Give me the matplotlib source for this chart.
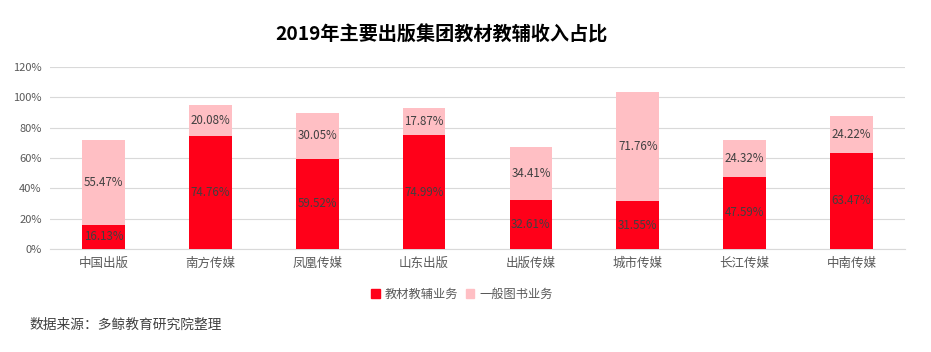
import matplotlib
matplotlib.use("Agg")
import matplotlib.pyplot as plt
from matplotlib.ticker import FuncFormatter, MultipleLocator
from matplotlib.patches import Patch

plt.rcParams['font.family'] = ['Noto Sans CJK SC', 'DejaVu Sans']

categories = ["中国出版", "南方传媒", "凤凰传媒", "山东出版", "出版传媒", "城市传媒", "长江传媒", "中南传媒"]
textbook = [16.13, 74.76, 59.52, 74.99, 32.61, 31.55, 47.59, 63.47]
general = [55.47, 20.08, 30.05, 17.87, 34.41, 71.76, 24.32, 24.22]
series_names = ["教材教辅业务", "一般图书业务"]
title = "2019年主要出版集团教材教辅收入占比"
source = "数据来源：多鲸教育研究院整理"

red = "#FF0019"
pink = "#FFBFC4"
label_color = "#404040"

fig = plt.figure(figsize=(9.31, 3.52), dpi=100)
ax = fig.add_axes([50/931, 1-249/352, 855/931, 182/352])

x = list(range(len(categories)))
tb = [v/100 for v in textbook]
gn = [v/100 for v in general]
ax.bar(x, tb, width=0.4, color=red, zorder=3)
ax.bar(x, gn, width=0.4, bottom=tb, color=pink, zorder=3)

for i in x:
    ax.text(i, tb[i]/2, f"{textbook[i]:.2f}%", ha='center', va='center', fontsize=8.3, color=label_color, zorder=4)
    ax.text(i, tb[i] + gn[i]/2, f"{general[i]:.2f}%", ha='center', va='center', fontsize=8.3, color=label_color, zorder=4)

ax.set_xlim(-0.5, len(categories)-0.5)
ax.set_ylim(0, 1.2)
ax.yaxis.set_major_locator(MultipleLocator(0.2))
ax.yaxis.set_major_formatter(FuncFormatter(lambda v, p: f"{v*100:.0f}%"))
ax.grid(axis='y', color='#D9D9D9', linewidth=0.8, zorder=0)
for s in ['top', 'right', 'left']:
    ax.spines[s].set_visible(False)
ax.spines['bottom'].set_color('#D9D9D9')
ax.tick_params(axis='both', length=0, labelcolor='#595959')
ax.tick_params(axis='y', pad=6, labelsize=8)
ax.tick_params(axis='x', pad=6, labelsize=9)
ax.set_xticks(x)
ax.set_xticklabels(categories)

fig.text(441/931, 1-35/352, title, ha='center', va='center', fontsize=13.8, fontweight='bold', color='black')

handles = [Patch(color=red), Patch(color=pink)]
fig.legend(handles, series_names, loc='center', bbox_to_anchor=(462/931, 1-294/352), ncol=2,
           frameon=False, fontsize=8.8, handlelength=0.7, handleheight=0.7, handletextpad=0.4,
           columnspacing=0.6, labelcolor='#595959')

fig.text(30/931, 1-325/352, source, ha='left', va='center', fontsize=9.9, color='#404040')

fig.savefig("out.png", dpi=100)
